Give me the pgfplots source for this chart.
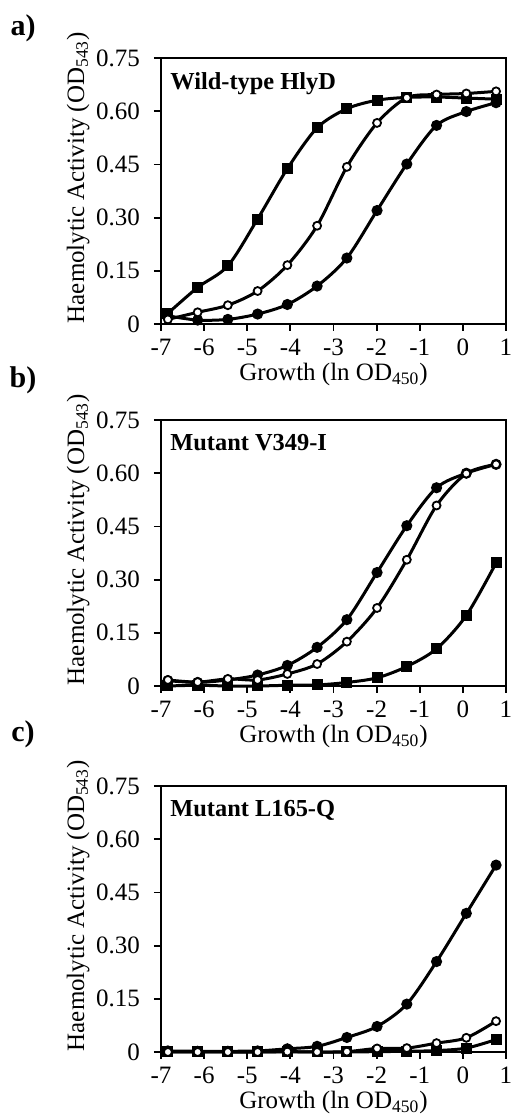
\documentclass[border=0pt]{standalone}
\usepackage{fontspec}
\setmainfont{Liberation Serif}
\usepackage{pgfplots}
\pgfplotsset{compat=1.18}

% x positions: ln OD450, one doubling apart
\pgfplotsset{
  hly/.style={
    scale only axis, width=172.5pt, height=133pt,
    xmin=-7, xmax=1, ymin=0, ymax=0.75,
    xtick={-7,-6,-5,-4,-3,-2,-1,0,1},
    xticklabels={-7,-6,-5,-4,-3,-2,-1,0,1},
    ytick={0,0.15,0.3,0.45,0.6,0.75},
    yticklabels={0,0.15,0.30,0.45,0.60,0.75},
    tick align=outside, xtick pos=bottom, ytick pos=left,
    major tick length=3.5pt,
    axis line style={line width=1pt},
    tick style={line width=0.9pt, black},
    ticklabel style={font=\fontsize{12.5}{14}\selectfont},
    xticklabel style={yshift=-0.3pt},
    yticklabel style={xshift=-3.5pt},
    xlabel={Growth (ln OD\textsubscript{450})},
    ylabel={Haemolytic Activity (OD\textsubscript{543})},
    label style={font=\fontsize{12.5}{14}\selectfont},
    xlabel style={at={(axis description cs:0.5,-0.19)}, anchor=center},
    ylabel style={at={(axis description cs:-0.24,0.55)}, anchor=center, rotate=0},
    clip=false,
  },
  sq/.style={black, line width=1.5pt, smooth, tension=0.5, mark=square*, mark size=2pt, mark options={solid, fill=black}},
  fc/.style={black, line width=1.5pt, smooth, tension=0.5, mark=*, mark size=2pt, mark options={solid, fill=black}},
  oc/.style={black, line width=1.5pt, smooth, tension=0.5, mark=*, mark size=2pt, mark options={solid, fill=white, line width=0.9pt}},
}

\newcommand{\paneltitle}[1]{\node[anchor=north west, inner sep=0pt, font=\bfseries\fontsize{12.2}{14}\selectfont] at (axis description cs:0.026,0.947) {#1};}

\begin{document}
\begin{tikzpicture}
\useasboundingbox (0,0) rectangle (255.5pt,-558pt);

\node[font=\bfseries\fontsize{15}{17}\selectfont] at (11.5pt,-14pt) {a)};
\node[font=\bfseries\fontsize{15}{17}\selectfont] at (11.5pt,-190pt) {b)};
\node[font=\bfseries\fontsize{15}{17}\selectfont] at (11.5pt,-367pt) {c)};

% a) wild type
\begin{axis}[hly, at={(80.5pt,-29pt)}, anchor=north west]
\paneltitle{Wild-type HlyD}
\addplot[sq] coordinates {
 (-6.84,0.030)(-6.15,0.103)(-5.45,0.164)(-4.76,0.296)(-4.07,0.438)(-3.38,0.553)
 (-2.69,0.607)(-1.99,0.631)(-1.30,0.639)(-0.61,0.640)(0.08,0.637)(0.77,0.634)};
\addplot[fc] coordinates {
 (-6.84,0.023)(-6.15,0.011)(-5.45,0.013)(-4.76,0.028)(-4.07,0.055)(-3.38,0.107)
 (-2.69,0.186)(-1.99,0.320)(-1.30,0.451)(-0.61,0.560)(0.08,0.599)(0.77,0.624)};
\addplot[oc] coordinates {
 (-6.84,0.013)(-6.15,0.033)(-5.45,0.053)(-4.76,0.093)(-4.07,0.166)(-3.38,0.277)
 (-2.69,0.443)(-1.99,0.567)(-1.30,0.638)(-0.61,0.647)(0.08,0.650)(0.77,0.656)};
\end{axis}

% b) V349-I
\begin{axis}[hly, at={(80.5pt,-210pt)}, anchor=north west]
\paneltitle{Mutant V349-I}
\addplot[sq] coordinates {
 (-6.84,0.0)(-6.15,0.002)(-5.45,0.0)(-4.76,0.0)(-4.07,0.002)(-3.38,0.003)
 (-2.69,0.010)(-1.99,0.023)(-1.30,0.055)(-0.61,0.105)(0.08,0.199)(0.77,0.347)};
\addplot[fc] coordinates {
 (-6.84,0.015)(-6.15,0.010)(-5.45,0.017)(-4.76,0.031)(-4.07,0.058)(-3.38,0.109)
 (-2.69,0.187)(-1.99,0.320)(-1.30,0.452)(-0.61,0.559)(0.08,0.600)(0.77,0.625)};
\addplot[oc] coordinates {
 (-6.84,0.017)(-6.15,0.011)(-5.45,0.020)(-4.76,0.017)(-4.07,0.034)(-3.38,0.062)
 (-2.69,0.125)(-1.99,0.220)(-1.30,0.356)(-0.61,0.509)(0.08,0.599)(0.77,0.625)};
\end{axis}

% c) L165-Q
\begin{axis}[hly, at={(80.5pt,-393pt)}, anchor=north west]
\paneltitle{Mutant L165-Q}
\addplot[sq] coordinates {
 (-6.84,0.0)(-6.15,0.0)(-5.45,0.0)(-4.76,0.0)(-4.07,0.0)(-3.38,0.0)
 (-2.69,0.0)(-1.99,0.001)(-1.30,0.002)(-0.61,0.004)(0.08,0.011)(0.77,0.035)};
\addplot[fc] coordinates {
 (-6.84,0.003)(-6.15,0.002)(-5.45,0.002)(-4.76,0.003)(-4.07,0.009)(-3.38,0.016)
 (-2.69,0.041)(-1.99,0.072)(-1.30,0.135)(-0.61,0.255)(0.08,0.391)(0.77,0.527)};
\addplot[oc] coordinates {
 (-6.84,0.0)(-6.15,0.0)(-5.45,0.0)(-4.76,0.0)(-4.07,0.001)(-3.38,0.0)
 (-2.69,0.001)(-1.99,0.010)(-1.30,0.011)(-0.61,0.025)(0.08,0.040)(0.77,0.087)};
\end{axis}
\end{tikzpicture}
\end{document}
